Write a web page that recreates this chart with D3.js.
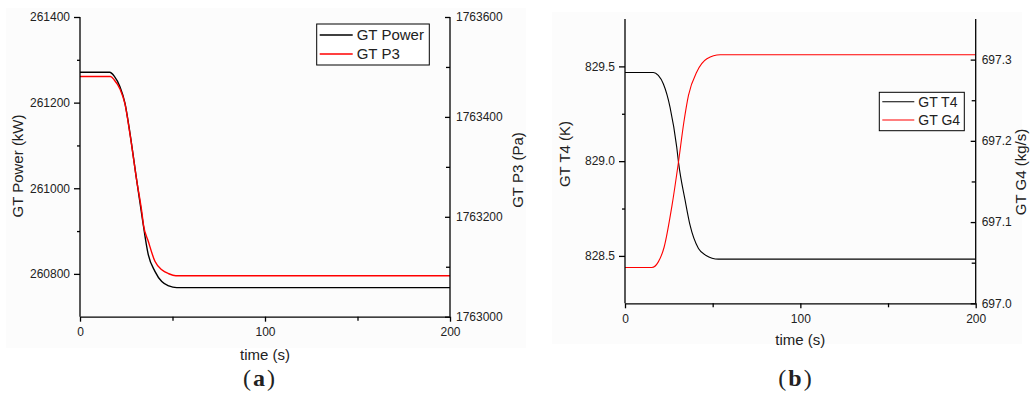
<!DOCTYPE html>
<html>
<head>
<meta charset="utf-8">
<script src="https://cdn.jsdelivr.net/npm/d3@7"></script>
<style>
  body { margin: 0; background: #fff; }
  svg text { font-family: "Liberation Sans", Arial, sans-serif; fill: #222; }
  .tick text { font-size: 12px; }
  .axis path, .axis line { stroke: #000; stroke-width: 1.3; }
  .panel-label { font-family: "Liberation Serif", "Times New Roman", serif; font-size: 24px; }
</style>
</head>
<body>
<div class="chart"></div>
<script>
// ---- data ----
// panel (a)
const powerTime = [0, 16, 18.5, 21.6, 24.3, 27, 30.6, 33.4, 36.9, 40.5, 44.2, 48, 52.3, 200]
const powerKW   = [261271, 261271, 261262, 261237, 261199, 261129, 261020, 260938, 260845, 260806, 260782, 260772, 260768, 260768]
const p3Time    = [0, 16.5, 18.5, 21.6, 24.3, 27, 30.6, 33.4, 34.3, 36.9, 40.5, 44.2, 48, 51.8, 200]
const p3Pa      = [1763481, 1763481, 1763474, 1763456, 1763426, 1763366, 1763274, 1763210, 1763184, 1763151, 1763111, 1763094, 1763086, 1763082, 1763082]
// panel (b)
const t4Time = [0, 16.2, 19, 21.9, 25.7, 29.5, 30.5, 34.3, 37.1, 41.9, 46, 53.3, 200]
const t4K    = [829.468, 829.468, 829.452, 829.407, 829.284, 829.074, 828.995, 828.793, 828.662, 828.539, 828.504, 828.483, 828.483]
const g4Time = [0, 15.3, 19, 22.3, 26.7, 30.5, 33.5, 36.2, 41, 46.7, 54.3, 200]
const g4Kgs  = [697.044, 697.044, 697.051, 697.069, 697.119, 697.174, 697.222, 697.256, 697.285, 697.301, 697.306, 697.306]

const aLeftTicks = [260800, 261000, 261200, 261400]
const aLeftMinor = [260900, 261100, 261300]
const aRightTicks = [1763000, 1763200, 1763400, 1763600]
const aRightMinor = [1763100, 1763300, 1763500]
const bLeftTicks = [828.5, 829.0, 829.5]
const bLeftMinor = [828.75, 829.25]
const bRightTicks = [697.0, 697.1, 697.2, 697.3]
const bRightMinor = [697.05, 697.15, 697.25]
const timeTicks = [0, 100, 200]
const timeMinor = [50, 150]

const zip = (xs, ys) => xs.map((x, i) => ({t: x, v: ys[i]}))

const width = 1030, height = 396

const svg = d3.select(".chart").append("svg")
  .attr("width", width)
  .attr("height", height)

// faint page tint like the scanned figure
svg.append("rect").attr("x", 6).attr("y", 8).attr("width", 520).attr("height", 340).attr("fill", "#fcfcfc")
svg.append("rect").attr("x", 552).attr("y", 12).attr("width", 470).attr("height", 332).attr("fill", "#fcfcfc")

function panel(o) {
  const x = d3.scaleLinear().domain([0, 200]).range([o.x0, o.x1])
  const yL = d3.scaleLinear().domain(o.leftDomain).range([o.y1, o.y0])
  const yR = d3.scaleLinear().domain(o.rightDomain).range([o.y1, o.y0])

  const line = (ys) => d3.line()
    .x(d => x(d.t))
    .y(d => ys(d.v))
    .curve(d3.curveMonotoneX)

  // series
  svg.append("path")
    .datum(o.black)
    .attr("fill", "none")
    .attr("stroke", "#000")
    .attr("stroke-width", o.lw)
    .attr("d", line(yL))

  svg.append("path")
    .datum(o.red)
    .attr("fill", "none")
    .attr("stroke", "#ff0000")
    .attr("stroke-width", o.lw)
    .attr("d", line(yR))

  // minor ticks
  svg.append("g").attr("class", "axis")
    .attr("transform", `translate(0,${o.y1})`)
    .call(d3.axisBottom(x).tickValues(timeMinor).tickSize(4).tickFormat(''))
    .select(".domain").remove()
  svg.append("g").attr("class", "axis")
    .attr("transform", `translate(${o.x0},0)`)
    .call(d3.axisLeft(yL).tickValues(o.leftMinor).tickSize(3).tickFormat(''))
    .select(".domain").remove()
  svg.append("g").attr("class", "axis")
    .attr("transform", `translate(${o.x1},0)`)
    .call(d3.axisLeft(yR).tickValues(o.rightMinor).tickSize(4).tickFormat(''))
    .select(".domain").remove()

  // major axes
  svg.append("g").attr("class", "axis")
    .attr("transform", `translate(0,${o.y1})`)
    .call(d3.axisBottom(x).tickValues(timeTicks).tickSize(5).tickPadding(4).tickSizeOuter(0))
    .selectAll("text").attr("dy", "0.9em")

  svg.append("g").attr("class", "axis")
    .attr("transform", `translate(${o.x0},0)`)
    .call(d3.axisLeft(yL).tickValues(o.leftTicks).tickFormat(o.leftFmt).tickSize(6).tickPadding(4).tickSizeOuter(0))
    .call(g => g.select(".domain").attr("d", `M0,${o.y1}V${o.y0}`))

  const gR = svg.append("g").attr("class", "axis")
    .attr("transform", `translate(${o.x1},0)`)
    .call(d3.axisRight(yR).tickValues(o.rightTicks).tickFormat(o.rightFmt).tickSize(0).tickPadding(6).tickSizeOuter(0))
    .call(g => g.select(".domain").attr("d", `M0,${o.y1}V${o.y0}`))
  gR.selectAll(".tick line").attr("x1", -5).attr("x2", 0)

  // titles
  svg.append("text")
    .attr("x", (o.x0 + o.x1) / 2)
    .attr("y", o.xTitleY)
    .attr("text-anchor", "middle")
    .attr("font-size", 15)
    .text("time (s)")

  svg.append("text")
    .attr("transform", `translate(${o.lTitleX},${o.lTitleY}) rotate(-90)`)
    .attr("text-anchor", "middle")
    .attr("dy", "0.35em")
    .attr("font-size", 15)
    .text(o.leftTitle)

  svg.append("text")
    .attr("transform", `translate(${o.rTitleX},${o.rTitleY}) rotate(-90)`)
    .attr("text-anchor", "middle")
    .attr("dy", "0.35em")
    .attr("font-size", 15)
    .text(o.rightTitle)

  // legend
  const L = o.legend
  svg.append("rect")
    .attr("x", L.x).attr("y", L.y)
    .attr("width", L.w).attr("height", L.h)
    .attr("fill", "#fff")
    .attr("stroke", "#000")
    .attr("stroke-width", 1)
  L.items.forEach((it, i) => {
    const cy = L.y + L.row0 + i * L.step
    svg.append("line")
      .attr("x1", L.x + 3).attr("x2", L.x + L.lineLen)
      .attr("y1", cy).attr("y2", cy)
      .attr("stroke", it.color)
      .attr("stroke-width", o.lw)
    svg.append("text")
      .attr("x", L.x + L.lineLen + 4)
      .attr("y", cy)
      .attr("dy", "0.35em")
      .attr("font-size", L.fs)
      .text(it.name)
  })

  // panel label
  const lab = svg.append("text")
    .attr("class", "panel-label")
    .attr("x", o.labelX)
    .attr("y", 386)
    .attr("text-anchor", "middle")
  lab.append("tspan").text("(")
  lab.append("tspan").attr("font-weight", "bold").attr("dx", 2).text(o.letter)
  lab.append("tspan").attr("dx", 2).text(")")
}

panel({
  x0: 80, x1: 450, y0: 17, y1: 316.7,
  leftDomain: [260700, 261400], rightDomain: [1763000, 1763600],
  leftTicks: aLeftTicks, leftMinor: aLeftMinor, leftFmt: d3.format("d"),
  rightTicks: aRightTicks, rightMinor: aRightMinor, rightFmt: d3.format("d"),
  black: zip(powerTime, powerKW), red: zip(p3Time, p3Pa), lw: 1.4,
  xTitleY: 360, lTitleX: 18, lTitleY: 166, rTitleX: 518, rTitleY: 170,
  leftTitle: "GT Power (kW)", rightTitle: "GT P3 (Pa)",
  legend: {x: 316.7, y: 24, w: 112.6, h: 41, row0: 11, step: 19, lineLen: 36, fs: 15,
    items: [{name: "GT Power", color: "#000"}, {name: "GT P3", color: "#ff0000"}]},
  labelX: 259, letter: "a"
})

panel({
  x0: 625, x1: 975.7, y0: 19, y1: 303.3,
  leftDomain: [828.25, 829.75], rightDomain: [697.0, 697.35],
  leftTicks: bLeftTicks, leftMinor: bLeftMinor, leftFmt: d3.format(".1f"),
  rightTicks: bRightTicks, rightMinor: bRightMinor, rightFmt: d3.format(".1f"),
  black: zip(t4Time, t4K), red: zip(g4Time, g4Kgs), lw: 1.1,
  xTitleY: 345, lTitleX: 565, lTitleY: 154, rTitleX: 1021, rTitleY: 172,
  leftTitle: "GT T4 (K)", rightTitle: "GT G4 (kg/s)",
  legend: {x: 879.3, y: 92.3, w: 85, h: 38.4, row0: 9.4, step: 18.3, lineLen: 35, fs: 14,
    items: [{name: "GT T4", color: "#000"}, {name: "GT G4", color: "#ff0000"}]},
  labelX: 795, letter: "b"
})
</script>
</body>
</html>
